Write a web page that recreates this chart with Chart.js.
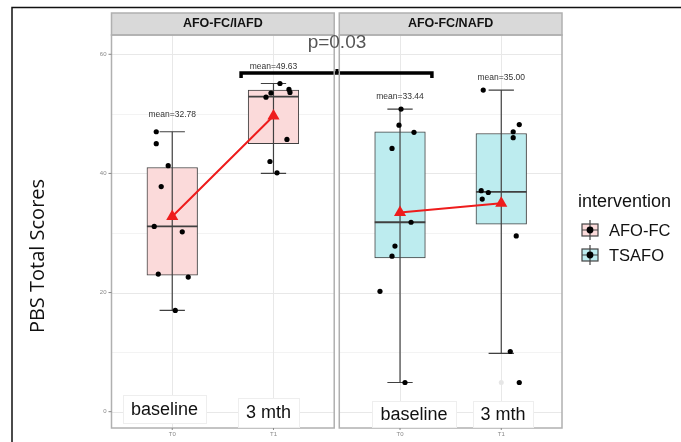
<!DOCTYPE html>
<html>
<head>
<meta charset="utf-8">
<script src="https://cdn.jsdelivr.net/npm/chart.js@4/dist/chart.umd.min.js"></script>
<style>
  body { margin: 0; background: #fff; }
  canvas { display: block; }
</style>
</head>
<body>
<canvas id="chart" width="681" height="442"></canvas>
<script>
// facets and time points
const panels = ['AFO-FC/IAFD', 'AFO-FC/NAFD'];
const timepoints = ['T0', 'T1'];
const timeLabels = ['baseline', '3 mth'];
const groups = ['AFO-FC', 'TSAFO'];
const yTicks = [0, 20, 40, 60];

// box stats, order: IAFD T0, IAFD T1, NAFD T0, NAFD T1
const whiskerLow = [17.0, 40.0, 4.9, 9.8];
const q1 = [22.9, 45.0, 25.8, 31.5];
const median = [31.1, 52.9, 31.8, 36.9];
const q3 = [41.0, 54.0, 47.0, 46.7];
const whiskerHigh = [47.0, 55.1, 50.8, 54.0];
const means = [32.78, 49.63, 33.44, 35.00];
const meanLabelY = [49.9, 58.0, 52.9, 56.0];

// individual scores
const iafdT0 = [47.0, 45.0, 41.3, 37.8, 31.1, 30.2, 23.1, 22.6, 17.0];
const iafdT1 = [55.1, 53.5, 52.8, 54.1, 53.6, 45.7, 42.0, 40.1];
const nafdT0 = [50.8, 48.1, 46.9, 44.2, 31.8, 27.8, 26.1, 20.2, 4.9];
const nafdT1 = [54.0, 48.2, 47.0, 46.0, 37.1, 36.8, 35.7, 29.5, 10.1, 4.9];
const outliers = [null, null, null, [4.9]];

const pValue = 'p=0.03';

// ---- layout (not data) ----
const centers = [1, 2, 3.25, 4.25];
const panelRanges = [[0.4, 2.6], [2.65, 4.85]];
const jitter = [
    [-0.158, -0.158, -0.04, -0.109, -0.178, 0.099, -0.138, 0.158, 0.03],
    [0.064, -0.025, -0.074, 0.153, 0.163, 0.133, -0.035, 0.035],
    [0.01, -0.01, 0.138, -0.079, 0.109, -0.05, -0.079, -0.198, 0.049],
    [-0.178, 0.178, 0.118, 0.118, -0.198, -0.128, -0.188, 0.148, 0.089, 0.178]
];
const fills = ['#fbdada', '#fbdada', '#bdecef', '#bdecef'];
const groupFills = ['#fbdada', '#bdecef'];
const boxLine = '#404040';
const red = '#ee1c1c';

const allPoints = [iafdT0, iafdT1, nafdT0, nafdT1];

const boxData = centers.map((c, i) => ({x: c, y: [q1[i], q3[i]]}));

const whiskerData = [];
const capData = [];
const medianData = [];
centers.forEach((c, i) => {
    whiskerData.push({x: c, y: whiskerLow[i]}, {x: c, y: whiskerHigh[i]}, {x: c, y: null});
    capData.push({x: c - 0.125, y: whiskerLow[i]}, {x: c + 0.125, y: whiskerLow[i]}, {x: c, y: null});
    capData.push({x: c - 0.125, y: whiskerHigh[i]}, {x: c + 0.125, y: whiskerHigh[i]}, {x: c, y: null});
    medianData.push({x: c - 0.25, y: median[i]}, {x: c + 0.25, y: median[i]}, {x: c, y: null});
});

const pointData = [];
allPoints.forEach((arr, i) => {
    arr.forEach((v, j) => pointData.push({x: centers[i] + jitter[i][j], y: v}));
});

const outlierData = [];
outliers.forEach((arr, i) => {
    if (arr) arr.forEach(v => outlierData.push({x: centers[i], y: v}));
});

const meanData = [
    {x: centers[0], y: means[0]}, {x: centers[1], y: means[1]}, {x: 2.6, y: null},
    {x: centers[2], y: means[2]}, {x: centers[3], y: means[3]}
];

// significance bracket between the two panels
const bracketY = 56.86;
const bracketData = [
    {x: 1.68, y: 56.0}, {x: 1.68, y: bracketY}, {x: 3.565, y: bracketY}, {x: 3.565, y: 56.0}
];

const panelPlugin = {
    id: 'panels',
    beforeDatasetsDraw(chart) {
        const c = chart.ctx;
        const xs = chart.scales.x, ys = chart.scales.y;
        const top = chart.chartArea.top, bottom = chart.chartArea.bottom;
        c.save();
        panelRanges.forEach(r => {
            const l = xs.getPixelForValue(r[0]), rt = xs.getPixelForValue(r[1]);
            // minor grid
            c.strokeStyle = '#f3f3f3';
            c.lineWidth = 1;
            [10, 30, 50].forEach(v => {
                const y = Math.round(ys.getPixelForValue(v)) + 0.5;
                c.beginPath(); c.moveTo(l, y); c.lineTo(rt, y); c.stroke();
            });
            c.strokeStyle = '#e8e8e8';
            yTicks.forEach(v => {
                const y = Math.round(ys.getPixelForValue(v)) + 0.5;
                c.beginPath(); c.moveTo(l, y); c.lineTo(rt, y); c.stroke();
            });
        });
        c.strokeStyle = '#e8e8e8';
        centers.forEach(cx => {
            const x = Math.round(xs.getPixelForValue(cx)) + 0.5;
            c.beginPath(); c.moveTo(x, top); c.lineTo(x, bottom); c.stroke();
        });
        c.restore();
    },
    afterDatasetsDraw(chart) {
        const c = chart.ctx;
        const xs = chart.scales.x, ys = chart.scales.y;
        const top = chart.chartArea.top, bottom = chart.chartArea.bottom;
        c.save();

        // panel borders and strips
        panelRanges.forEach((r, i) => {
            const l = xs.getPixelForValue(r[0]), rt = xs.getPixelForValue(r[1]);
            c.fillStyle = '#d9d9d9';
            c.fillRect(l, top - 22, rt - l, 22);
            c.strokeStyle = '#b0b0b0';
            c.lineWidth = 1.5;
            c.strokeRect(l, top - 22, rt - l, 22);
            c.strokeRect(l, top, rt - l, bottom - top);
            c.fillStyle = '#111';
            c.font = 'bold 12.5px "Liberation Sans", Arial, sans-serif';
            c.textAlign = 'center';
            c.textBaseline = 'middle';
            c.fillText(panels[i], (l + rt) / 2, top - 11);
        });

        // y ticks
        const axL = xs.getPixelForValue(panelRanges[0][0]);
        c.font = '6px "Liberation Sans", Arial, sans-serif';
        c.fillStyle = '#888';
        c.strokeStyle = '#888';
        c.lineWidth = 1;
        c.textAlign = 'right';
        c.textBaseline = 'middle';
        yTicks.forEach(v => {
            const y = ys.getPixelForValue(v);
            c.beginPath(); c.moveTo(axL - 3, y); c.lineTo(axL, y); c.stroke();
            c.fillText(String(v), axL - 5, y);
        });
        // x ticks
        c.textAlign = 'center';
        c.textBaseline = 'top';
        centers.forEach((cx, i) => {
            const x = xs.getPixelForValue(cx);
            c.beginPath(); c.moveTo(x, bottom); c.lineTo(x, bottom + 2); c.stroke();
            c.fillText(timepoints[i % 2], x, bottom + 3);
        });

        // mean labels
        c.font = '8.5px "Liberation Sans", Arial, sans-serif';
        c.fillStyle = '#333';
        c.textBaseline = 'middle';
        centers.forEach((cx, i) => {
            c.fillText('mean=' + means[i].toFixed(2), xs.getPixelForValue(cx), ys.getPixelForValue(meanLabelY[i]));
        });

        // bracket centre tick and p value
        const mid = xs.getPixelForValue(2.627);
        c.strokeStyle = '#000';
        c.lineWidth = 3;
        c.beginPath();
        c.moveTo(mid, ys.getPixelForValue(bracketY));
        c.lineTo(mid, ys.getPixelForValue(bracketY) - 4);
        c.stroke();
        c.font = '19px "Liberation Sans", Arial, sans-serif';
        c.fillStyle = '#555';
        c.textBaseline = 'middle';
        c.fillText(pValue, mid, 43);

        // time labels in white boxes at the bottom of each panel
        const labelBoxes = [[123, 395, 83, 28], [238, 398, 61, 29], [372, 401, 84, 26], [473, 401, 60, 26]];
        c.font = '18px "Liberation Sans", Arial, sans-serif';
        labelBoxes.forEach((b, i) => {
            c.fillStyle = '#fff';
            c.fillRect(b[0], b[1], b[2], b[3]);
            c.strokeStyle = '#eeeeee';
            c.lineWidth = 1;
            c.strokeRect(b[0] + 0.5, b[1] + 0.5, b[2], b[3]);
            c.fillStyle = '#111';
            c.fillText(timeLabels[i % 2], b[0] + b[2] / 2, b[1] + b[3] / 2 + 1);
        });

        // y title
        c.save();
        c.translate(38, 256);
        c.rotate(-Math.PI / 2);
        c.font = '20px "Open Sans", sans-serif';
        c.fillStyle = '#111';
        c.fillText('PBS Total Scores', 0, 0);
        c.restore();

        // legend
        c.textAlign = 'left';
        c.font = '18px "Liberation Sans", Arial, sans-serif';
        c.fillStyle = '#111';
        c.fillText('intervention', 578, 202);
        c.font = '16.5px "Liberation Sans", Arial, sans-serif';
        groups.forEach((g, i) => {
            const cy = 230 + i * 25;
            c.fillStyle = groupFills[i];
            c.fillRect(582, cy - 6, 16, 12);
            c.strokeStyle = '#444';
            c.lineWidth = 1.2;
            c.strokeRect(582, cy - 6, 16, 12);
            c.beginPath();
            c.moveTo(590, cy - 10); c.lineTo(590, cy + 10);
            c.moveTo(582, cy); c.lineTo(598, cy);
            c.stroke();
            c.fillStyle = '#000';
            c.beginPath(); c.arc(590, cy, 3.4, 0, Math.PI * 2); c.fill();
            c.fillStyle = '#111';
            c.fillText(g, 609, cy + 1);
        });

        // outer frame
        c.strokeStyle = '#111';
        c.lineWidth = 1.5;
        c.beginPath();
        c.moveTo(12, 442); c.lineTo(12, 7.5); c.lineTo(681, 7.5);
        c.stroke();
        c.restore();
    }
};

const ctx = document.getElementById('chart');
const chart = new Chart(ctx, {
    type: 'bar',
    data: {
        datasets: [{
            type: 'bar',
            data: boxData,
            backgroundColor: fills,
            borderColor: boxLine,
            borderWidth: 1,
            borderSkipped: false,
            barThickness: 50.6,
            order: 6
        }, {
            type: 'line',
            data: whiskerData,
            borderColor: boxLine,
            borderWidth: 1.2,
            pointRadius: 0,
            spanGaps: false,
            order: 5
        }, {
            type: 'line',
            data: capData,
            borderColor: boxLine,
            borderWidth: 1.2,
            pointRadius: 0,
            spanGaps: false,
            order: 5
        }, {
            type: 'line',
            data: medianData,
            borderColor: boxLine,
            borderWidth: 1.8,
            pointRadius: 0,
            spanGaps: false,
            order: 5
        }, {
            type: 'scatter',
            data: outlierData,
            backgroundColor: '#e6e6e6',
            borderWidth: 0,
            pointRadius: 2.5,
            order: 4
        }, {
            type: 'scatter',
            data: pointData,
            backgroundColor: '#000',
            borderWidth: 0,
            pointRadius: 2.6,
            order: 3
        }, {
            type: 'line',
            data: bracketData,
            borderColor: '#000',
            borderWidth: 3.5,
            pointRadius: 0,
            order: 2
        }, {
            type: 'line',
            data: meanData,
            borderColor: red,
            backgroundColor: red,
            borderWidth: 2,
            pointStyle: 'triangle',
            pointRadius: 7,
            pointBorderWidth: 0,
            spanGaps: false,
            order: 1
        }]
    },
    options: {
        responsive: false,
        animation: false,
        devicePixelRatio: 1,
        layout: {
            padding: {left: 111.5, right: 119, top: 35, bottom: 14}
        },
        plugins: {
            legend: {display: false},
            tooltip: {enabled: false}
        },
        scales: {
            x: {
                type: 'linear',
                min: 0.4,
                max: 4.85,
                offset: false,
                display: false
            },
            y: {
                type: 'linear',
                min: -2.74,
                max: 63.24,
                display: false
            }
        }
    },
    plugins: [panelPlugin]
});
</script>
</body>
</html>
